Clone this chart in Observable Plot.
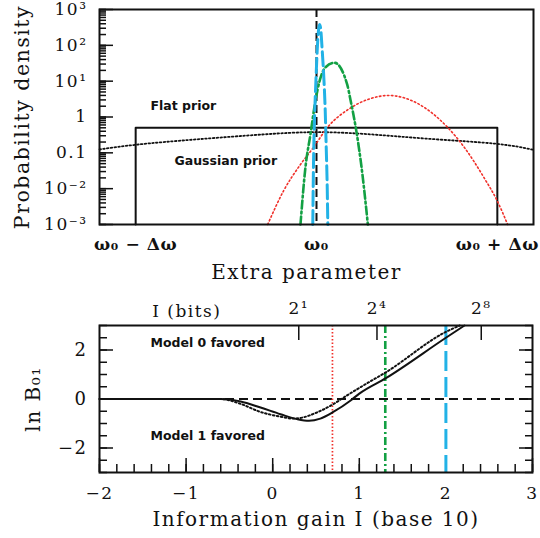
<!DOCTYPE html>
<html>
<head>
<meta charset="utf-8">
<script src="https://cdn.jsdelivr.net/npm/d3@7"></script>
<script src="https://cdn.jsdelivr.net/npm/@observablehq/plot@0.6"></script>
<style>
  body { margin: 0; background: #fff; }
  #chart svg { display: block; }
</style>
</head>
<body>
<div id="chart"></div>
<script>
// ---------- Top panel data ----------
const omegaTicks = [-1, 0, 1];
const omegaTickLabels = ["ω₀ − Δω", "ω₀", "ω₀ + Δω"];
const densityTicks = [1e-3, 1e-2, 0.1, 1, 10, 100, 1000];
const densityTickLabels = ["10⁻³", "10⁻²", "0.1", "1", "10¹", "10²", "10³"];

const flatPriorX = [-1, -1, 1, 1];
const flatPriorY = [0.001, 0.5, 0.5, 0.001];

const gaussPriorX = [-1.2, -0.985, -0.67, -0.30, -0.024, 0.253, 0.622, 0.992, 1.2];
const gaussPriorY = [0.124, 0.171, 0.236, 0.325, 0.377, 0.34, 0.246, 0.179, 0.121];

const redPostX = [-0.27, -0.181, -0.089, -0.015, 0.059, 0.188, 0.281, 0.40, 0.558, 0.724, 0.816, 0.927, 1.001, 1.057];
const redPostY = [0.001, 0.0089, 0.047, 0.145, 0.50, 1.78, 3.05, 3.98, 2.4, 0.52, 0.145, 0.020, 0.0044, 0.001];

const greenPostX = [-0.0886, -0.061, -0.033, -0.0055, 0.018, 0.05, 0.0997, 0.17, 0.188, 0.222, 0.249, 0.284];
const greenPostY = [0.001, 0.04, 0.34, 2.9, 10.5, 24.5, 32.5, 8.0, 3.0, 0.36, 0.04, 0.001];

const bluePostX = [-0.0205, -0.0183, -0.015, -0.0094, -0.0017, 0.0039, 0.011, 0.0166, 0.022, 0.0316, 0.0404, 0.0482, 0.0537, 0.0593, 0.0626];
const bluePostY = [0.001, 0.011, 0.144, 1.52, 16, 72, 260, 383, 320, 72, 12.9, 1.52, 0.144, 0.011, 0.001];

const omegaCenter = [0];

// ---------- Bottom panel data ----------
const infoTicks = [-2, -1, 0, 1, 2, 3];
const lnBTicks = [-2, 0, 2];
const bitsExponents = [1, 4, 8];
const bitsTickLabels = ["2¹", "2⁴", "2⁸"];

const solidI = [-2, -1, -0.6, -0.37, -0.14, 0.09, 0.28, 0.42, 0.55, 0.70, 0.90, 1.0, 1.307, 2.0, 2.215];
const solidLnB = [0, 0, 0, -0.1, -0.35, -0.62, -0.82, -0.89, -0.80, -0.53, -0.06, 0.22, 0.85, 2.5, 3.0];

const dottedI = [-2, -1, -0.6, -0.37, -0.14, 0.09, 0.24, 0.34, 0.51, 0.70, 0.855, 1.046, 1.307, 2.0, 2.16];
const dottedLnB = [0, 0, 0, -0.2, -0.53, -0.72, -0.80, -0.76, -0.55, -0.21, 0.14, 0.55, 1.09, 2.74, 3.0];

const redWidthI = [0.69];
const greenWidthI = [1.30];
const blueWidthI = [2.0];
const zeroLine = [0];

// ---------- styles ----------
const RED = "#f0302a", GREEN = "#12a043", BLUE = "#22b2e6";
const serif = "DejaVu Serif";
const sans = "DejaVu Sans";
const pts = (xs, ys) => xs.map((x, i) => [x, ys[i]]);
const densityLabel = d => densityTickLabels[densityTicks.indexOf(d)] ?? "";
const omegaLabel = d => omegaTickLabels[omegaTicks.indexOf(d)] ?? "";
const bitsPos = bitsExponents.map(k => Math.log10(2 ** k));
const bitsLabel = d => bitsTickLabels[bitsPos.indexOf(d)] ?? "";
const signed = d => d < 0 ? "−" + Math.abs(d) : String(d);

const minorLog = d3.scaleLog().domain([1e-3, 1e3]).ticks();
const empty = () => "";

const topPlot = Plot.plot({
  width: 540, height: 290,
  marginLeft: 99, marginRight: 7, marginTop: 9, marginBottom: 66,
  x: {domain: [-1.2, 1.2]},
  y: {type: "log", domain: [1e-3, 1e3]},
  style: {fontFamily: serif, fontSize: "17px", letterSpacing: "1.5px", background: "white", overflow: "visible", color: "#111"},
  marks: [
    Plot.axisY(minorLog, {anchor: "left", tickSize: 7, dx: 7, tickFormat: empty, label: null, strokeWidth: 1.5}),
    Plot.axisY(densityTicks, {anchor: "left", tickSize: 14, dx: 14, tickFormat: empty, label: null, strokeWidth: 1.5}),
    Plot.axisY(densityTicks, {anchor: "left", tickSize: 0, tickPadding: 12, tickFormat: densityLabel, label: null, fontSize: 17}),
    Plot.axisX(omegaTicks, {anchor: "bottom", tickSize: 0, tickPadding: 13, tickFormat: omegaLabel, label: null, fontSize: 17, fontWeight: "bold"}),
    Plot.line(pts(flatPriorX, flatPriorY), {stroke: "#111", strokeWidth: 2}),
    Plot.line(pts(gaussPriorX, gaussPriorY), {stroke: "#111", strokeWidth: 1.8, strokeDasharray: "1.6,2.2", curve: "natural"}),
    Plot.ruleX(omegaCenter, {stroke: "#111", strokeWidth: 2, strokeDasharray: "8,4"}),
    Plot.line(pts(redPostX, redPostY), {stroke: RED, strokeWidth: 1.6, strokeDasharray: "1.5,2.5", curve: "monotone-x"}),
    Plot.line(pts(greenPostX, greenPostY), {stroke: GREEN, strokeWidth: 2.6, strokeDasharray: "8,3,2,3", curve: "monotone-x"}),
    Plot.line(pts(bluePostX, bluePostY), {stroke: BLUE, strokeWidth: 3, strokeDasharray: "14,5", curve: "monotone-x"}),
    Plot.frame({stroke: "#111", strokeWidth: 2}),
    Plot.text(["Flat prior"], {text: d => d, frameAnchor: "top-left", dx: 51, dy: 96, textAnchor: "start", lineAnchor: "middle", fontFamily: sans, fontWeight: "bold", fontSize: 12.5}),
    Plot.text(["Gaussian prior"], {text: d => d, frameAnchor: "top-left", dx: 75, dy: 151, textAnchor: "start", lineAnchor: "middle", fontFamily: sans, fontWeight: "bold", fontSize: 12.5}),
    Plot.text(["Probability density"], {text: d => d, frameAnchor: "left", dx: -77, rotate: -90, textAnchor: "middle", lineAnchor: "middle", fontSize: 20.5}),
    Plot.text(["Extra parameter"], {text: d => d, frameAnchor: "bottom", dx: -10, dy: 48, textAnchor: "middle", lineAnchor: "middle", fontSize: 20})
  ]
});

const bottomPlot = Plot.plot({
  width: 540, height: 248,
  marginLeft: 99, marginRight: 8, marginTop: 35, marginBottom: 66,
  x: {domain: [-2, 3]},
  y: {domain: [-3, 3]},
  style: {fontFamily: serif, fontSize: "17px", letterSpacing: "1.5px", background: "white", overflow: "visible", color: "#111"},
  marks: [
    Plot.axisY(d3.range(-3, 3.001, 0.5), {anchor: "left", tickSize: 8, dx: 8, tickFormat: empty, label: null, strokeWidth: 1.5}),
    Plot.axisY(lnBTicks, {anchor: "left", tickSize: 14, dx: 14, tickFormat: empty, label: null, strokeWidth: 1.5}),
    Plot.axisY(d3.range(-3, 3.001, 0.5), {anchor: "right", tickSize: 8, dx: -8, tickFormat: empty, label: null, strokeWidth: 1.5}),
    Plot.axisY(lnBTicks, {anchor: "right", tickSize: 14, dx: -14, tickFormat: empty, label: null, strokeWidth: 1.5}),
    Plot.axisY(lnBTicks, {anchor: "left", tickSize: 0, tickPadding: 12, tickFormat: signed, label: null, fontSize: 18}),
    Plot.axisX(d3.range(-2, 3.001, 0.2), {anchor: "bottom", tickSize: 8, dy: -8, tickFormat: empty, label: null, strokeWidth: 1.5}),
    Plot.axisX(infoTicks, {anchor: "bottom", tickSize: 14, dy: -14, tickFormat: empty, label: null, strokeWidth: 1.5}),
    Plot.axisX(infoTicks, {anchor: "bottom", tickSize: 0, tickPadding: 14, tickFormat: signed, label: null, fontSize: 17}),
    Plot.axisX(bitsPos, {anchor: "top", tickSize: 14, dy: 14, tickFormat: empty, label: null, strokeWidth: 1.5}),
    Plot.axisX(bitsPos, {anchor: "top", tickSize: 0, tickPadding: 11.5, tickFormat: bitsLabel, label: null, fontSize: 17}),
    Plot.ruleY(zeroLine, {stroke: "#111", strokeWidth: 2, strokeDasharray: "9,5"}),
    Plot.ruleX(redWidthI, {stroke: RED, strokeWidth: 1.7, strokeDasharray: "1.5,2"}),
    Plot.ruleX(greenWidthI, {stroke: GREEN, strokeWidth: 2.6, strokeDasharray: "8,3,2,3"}),
    Plot.ruleX(blueWidthI, {stroke: BLUE, strokeWidth: 3, strokeDasharray: "20,6"}),
    Plot.line(pts(dottedI, dottedLnB), {stroke: "#111", strokeWidth: 2, strokeDasharray: "1.6,2.4", curve: "monotone-x"}),
    Plot.line(pts(solidI, solidLnB), {stroke: "#111", strokeWidth: 2, curve: "monotone-x"}),
    Plot.frame({stroke: "#111", strokeWidth: 2}),
    Plot.text(["Model 0 favored"], {text: d => d, frameAnchor: "top-left", dx: 51, dy: 17, textAnchor: "start", lineAnchor: "middle", fontFamily: sans, fontWeight: "bold", fontSize: 12.5}),
    Plot.text(["Model 1 favored"], {text: d => d, frameAnchor: "top-left", dx: 51, dy: 110, textAnchor: "start", lineAnchor: "middle", fontFamily: sans, fontWeight: "bold", fontSize: 12.5}),
    Plot.text(["I (bits)"], {text: d => d, frameAnchor: "top-left", dx: 52.7, dy: -8.3, textAnchor: "start", lineAnchor: "bottom", fontSize: 17}),
    Plot.text(["ln B₀₁"], {text: d => d, frameAnchor: "left", dx: -66, rotate: -90, textAnchor: "middle", lineAnchor: "middle", fontSize: 20}),
    Plot.text(["Information gain I (base 10)"], {text: d => d, frameAnchor: "bottom", dy: 47, textAnchor: "middle", lineAnchor: "middle", fontSize: 20})
  ]
});

for (const svg of [topPlot, bottomPlot]) {
  d3.select(svg).selectAll(`[font-family="${sans}"]`).style("letter-spacing", "0px");
  d3.select(svg).selectAll('[font-weight="bold"]').filter(function () { return this.getAttribute("font-family") !== sans; }).style("letter-spacing", "0.6px");
}

const chart = document.getElementById("chart");
chart.append(topPlot, bottomPlot);
</script>
</body>
</html>
